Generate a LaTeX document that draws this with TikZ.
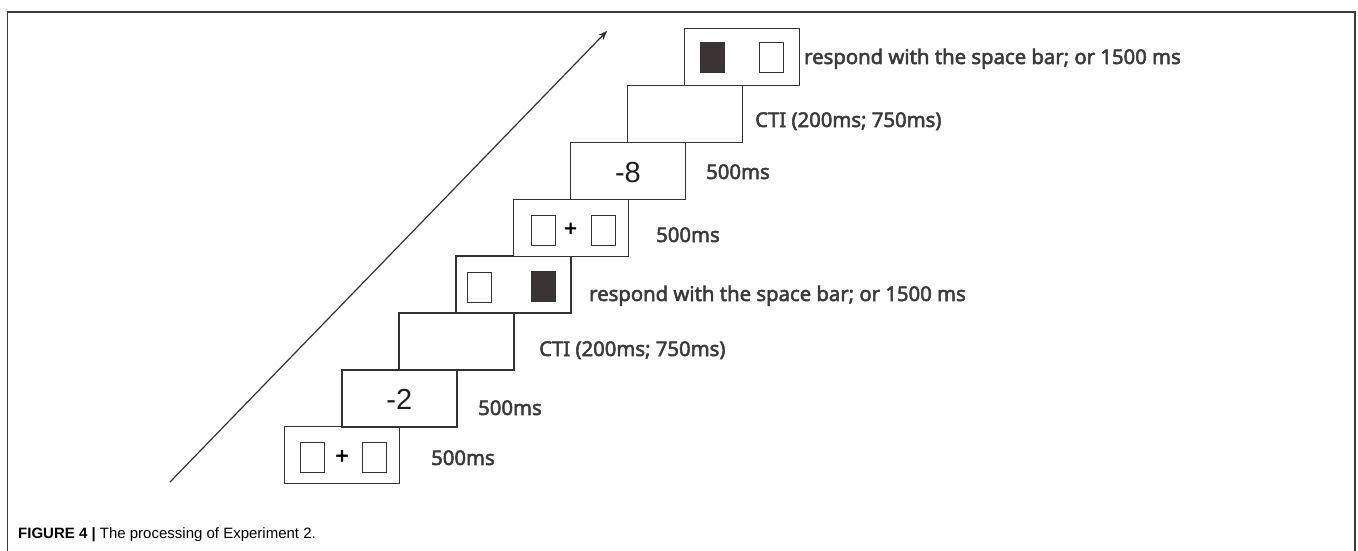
\documentclass[tikz,border=0pt]{standalone}
\usepackage{fontspec}
\setmainfont{Liberation Sans}
\newfontfamily\lblfont[FakeBold=2.5]{Noto Sans}
\newfontfamily\plusfont[FakeBold=2]{Noto Sans}
\usetikzlibrary{calc,arrows.meta}
\definecolor{lc}{HTML}{333333}
\definecolor{framec}{HTML}{3C3C3C}
\definecolor{lblc}{HTML}{3A3A3A}
\definecolor{darkfill}{HTML}{3A3434}
\definecolor{numc}{HTML}{1E1E1E}
\begin{document}
\begin{tikzpicture}[x=1pt,y=-1pt,
  trial/.style={draw=lc, line width=1.4pt, minimum width=115pt, minimum height=57pt, inner sep=0pt, anchor=north west, fill=white},
  sq/.style={draw=lc, line width=1pt, minimum width=24pt, minimum height=30pt, inner sep=0pt, anchor=north west, fill=white},
  dsq/.style={sq, fill=darkfill},
  lbl/.style={font=\lblfont\fontsize{20.3}{22}\selectfont, text=lblc, anchor=base west, inner sep=0pt},
  num/.style={font=\fontsize{29}{31}\selectfont, text=numc, inner sep=0pt},
  plus/.style={font=\plusfont\bfseries\fontsize{23}{25}\selectfont, text=black, inner sep=0pt},
  framestyle/.style={draw=framec, line width=1.3pt},
  arr/.style={draw=lc, line width=1.2pt, -{Stealth[length=9pt,width=7pt]}}]
\useasboundingbox (0,0) rectangle (1358,550);
% frame
\coordinate (fbl) at (7.5,552);
\coordinate (ftl) at (7.5,12);
\coordinate (ftr) at (1355,12);
\coordinate (fbr) at (1355,552);
\draw[framestyle] (fbl) -- (ftl) -- (ftr) -- (fbr);
% time arrow
\coordinate (as) at (170,482);
\coordinate (ae) at (607,31);
\draw[arr] (as) -- (ae);
% trial boxes
\node[trial] (b0) at (284,426) {};
\node[trial] (b1) at (341.1,369.1) {};
\node[trial] (b2) at (398.3,312.3) {};
\node[trial] (b3) at (455.4,255.4) {};
\node[trial] (b4) at (512.6,198.6) {};
\node[trial] (b5) at (569.7,141.7) {};
\node[trial] (b6) at (626.8,84.8) {};
\node[trial] (b7) at (684,28) {};
% box 0: fixation
\node[sq] (b0l) at ($(b0.north west)+(16,16)$) {};
\node[sq] (b0r) at ($(b0.north west)+(78,16)$) {};
\node[plus] (b0p) at ($(b0.north west)+(58,31)$) {+};
% box 1: -2
\node[num] (b1n) at ($(b1.center)+(0,1)$) {-2};
% box 3: response, dark right
\node[sq] (b3l) at ($(b3.north west)+(12,17)$) {};
\node[dsq] (b3r) at ($(b3.north west)+(76,16)$) {};
% box 4: fixation
\node[sq] (b4l) at ($(b4.north west)+(18,16)$) {};
\node[sq] (b4r) at ($(b4.north west)+(78,16)$) {};
\node[plus] (b4p) at ($(b4.north west)+(58,31)$) {+};
% box 5: -8
\node[num] (b5n) at ($(b5.center)+(0,1.5)$) {-8};
% box 7: response, dark left
\node[dsq] (b7l) at ($(b7.north west)+(16,14)$) {};
\node[sq] (b7r) at ($(b7.north west)+(75,14)$) {};
% labels
\node[lbl] (l0) at (431,465) {500ms};
\node[lbl] (l1) at (478,415) {500ms};
\node[lbl] (l2) at (539,356) {CTI (200ms; 750ms)};
\node[lbl] (l3) at (589,301) {respond with the space bar; or 1500 ms};
\node[lbl] (l4) at (656,242) {500ms};
\node[lbl] (l5) at (706,179) {500ms};
\node[lbl] (l6) at (755,127) {CTI (200ms; 750ms)};
\node[lbl] (l7) at (804,64) {respond with the space bar; or 1500 ms};
% caption
\node[anchor=base west, inner sep=0pt, font=\fontsize{15}{17}\selectfont] (cap) at (18,538) {\textbf{FIGURE 4 |} The processing of Experiment 2.};
\end{tikzpicture}
\end{document}
